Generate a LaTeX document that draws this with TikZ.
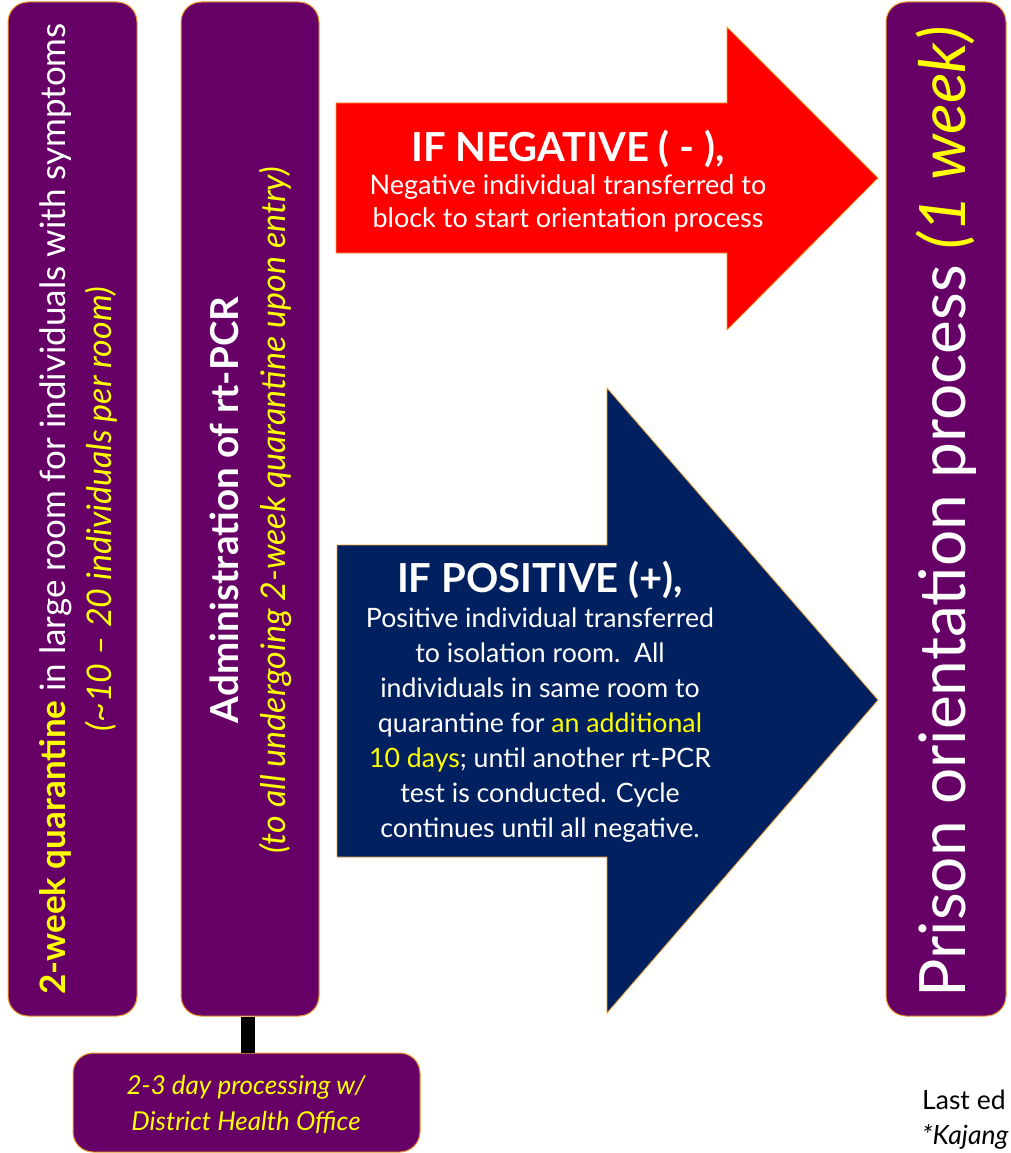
\documentclass[tikz,border=0pt]{standalone}
\usepackage{fontspec}
\setmainfont{Lato}
\begin{document}
\begin{tikzpicture}[x=1pt,y=-1pt]
\definecolor{plum}{HTML}{660066}
\definecolor{edgeor}{HTML}{F0A030}
\definecolor{navy}{HTML}{002060}
\definecolor{yel}{HTML}{FFFF00}
\definecolor{redfill}{HTML}{FF0000}
\tikzset{
 pbox/.style={draw=edgeor, line width=1pt, fill=plum, rounded corners=20pt, inner sep=0pt},
 vtext/.style={rotate=90, align=center, text=white, inner sep=0pt},
 arrowshape/.style={draw=edgeor, line width=0.8pt},
 arrtext/.style={align=center, text=white, inner sep=0pt},
 hl/.style={text=yel}
}
\clip (0,0) rectangle (1011,1153);
\fill[white] (0,0) rectangle (1011,1153);
% boxes
\node[pbox, minimum width=129pt, minimum height=1014pt] (b1) at (72.5,509) {};
\node[pbox, minimum width=138pt, minimum height=1014pt] (b2) at (250,509) {};
\node[pbox, minimum width=120pt, minimum height=1014pt] (b3) at (946,509) {};
\node[pbox, minimum width=347pt, minimum height=99pt] (b4) at (246.5,1102.5) {};
% connector
\draw[line width=14pt] ([xshift=-2pt]b2.south) -- ([xshift=-2pt]b2.south |- b4.north);
% arrows
\fill[redfill, arrowshape] (336,103) -- (727,103) -- (727,27) -- (878,178) -- (727,330) -- (727,253) -- (336,253) -- cycle;
\fill[navy, arrowshape] (337,545) -- (607,545) -- (607,388) -- (878,700) -- (607,1013) -- (607,857) -- (337,857) -- cycle;
% texts
\node[vtext, font=\fontsize{35}{46}\selectfont] (t1) at (78,509)
 {{\color{yel}\bfseries 2-week quarantine} in large room for individuals with symptoms\\
  {\color{yel}\fontsize{34}{46}\selectfont\itshape (\textasciitilde10 -- 20 individuals per room)}};
\node[vtext, font=\fontsize{34}{47}\selectfont] (t2) at (251,510)
 {{\fontsize{38.5}{47}\selectfont\bfseries Administration of rt-PCR}\\
  {\color{yel}\itshape (to all undergoing 2-week quarantine upon entry)}};
\node[vtext, font=\fontsize{64}{70}\selectfont] (t3) at (946,512)
 {Prison orientation process {\color{yel}\itshape (1 week)}};
\node[arrtext, font=\fontsize{27}{33}\selectfont] (t4) at (568,181)
 {{\fontsize{40}{42}\selectfont\bfseries IF NEGATIVE ( - ),}\\
  Negative individual transferred to\\ block to start orientation process};
\node[arrtext, font=\fontsize{26.7}{35}\selectfont] (t5) at (540,702)
 {{\fontsize{40}{40}\selectfont\bfseries IF POSITIVE (+),}\\
  Positive individual transferred\\ to isolation room.\ \ All\\
  individuals in same room to\\ quarantine for {\color{yel}an additional}\\
  {\color{yel}10 days}; until another rt-PCR\\ test is conducted. Cycle\\
  continues until all negative.};
\node[arrtext, text=yel, font=\fontsize{26}{36}\selectfont\itshape] (t6) at (246,1105)
 {2-3 day processing w/\\ District Health Office};
\node[anchor=base west, inner sep=0pt, font=\fontsize{26.5}{30}\selectfont] (t7) at (922,1109) {Last ed};
\node[anchor=base west, inner sep=0pt, font=\fontsize{26.5}{30}\selectfont\itshape] (t8) at (922,1144) {*Kajang};
\end{tikzpicture}
\end{document}
